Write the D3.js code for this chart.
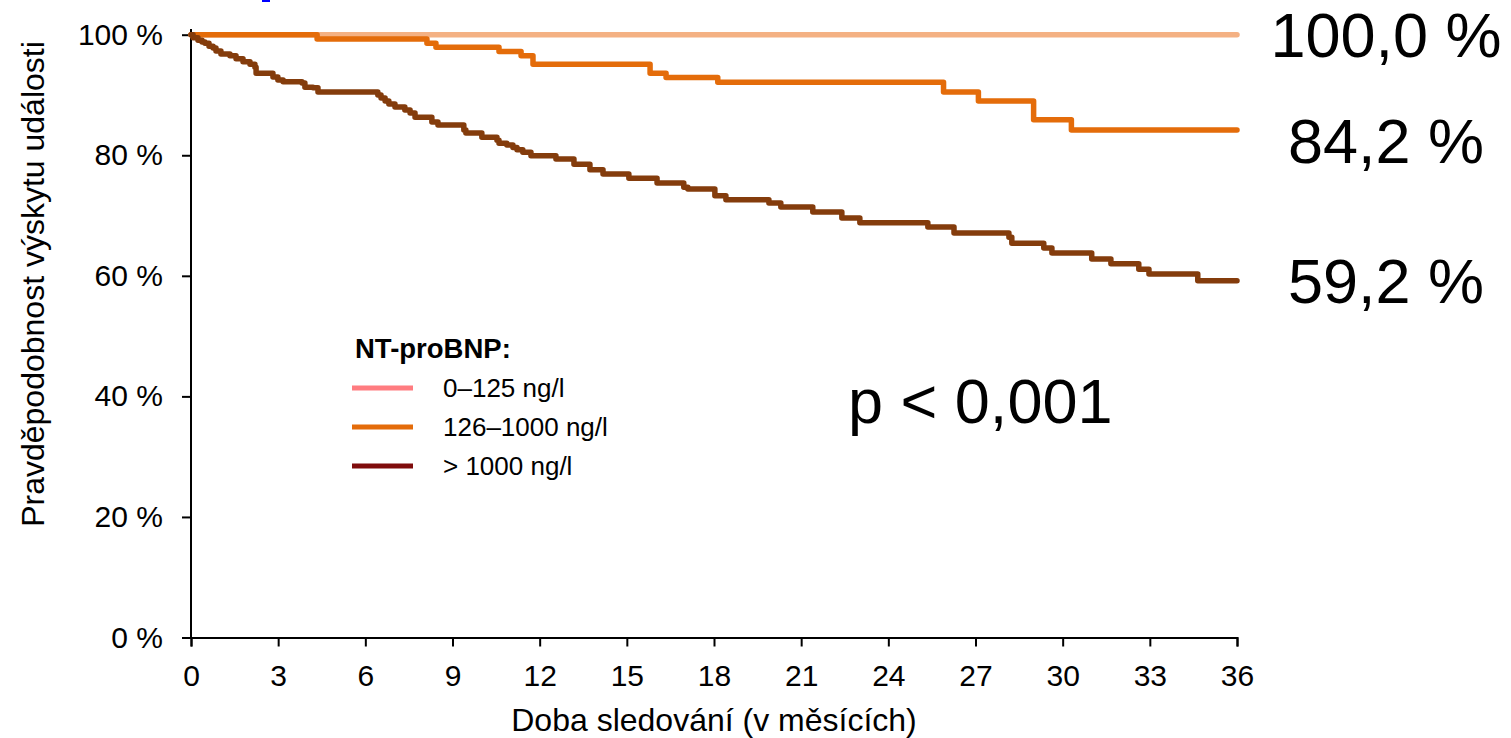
<!DOCTYPE html>
<html>
<head>
<meta charset="utf-8">
<script src="https://cdn.jsdelivr.net/npm/d3@7"></script>
<style>
  html, body { margin: 0; padding: 0; background: #fff; }
  svg { display: block; font-family: "Liberation Sans", Arial, sans-serif; }
</style>
</head>
<body>
<svg id="chart" width="1511" height="738"></svg>
<script>
// months of follow-up and event-free probability (%) after each step
const groups = ['0–125 ng/l', '126–1000 ng/l', '> 1000 ng/l']
const finalLabels = ['100,0 %', '84,2 %', '59,2 %']

const lowTimes = [0, 36]
const lowValues = [100, 100]

const midTimes = [0, 4.34, 8.12, 8.43, 10.6, 11.36, 11.77, 15.8, 16.35, 18.13,
  25.9, 27.1, 29.0, 30.3, 36]
const midValues = [100, 99.3, 98.6, 97.9, 97.2, 96.5, 95.1, 93.6, 92.9, 92.1,
  90.5, 89.0, 85.9, 84.2, 84.2]

const highTimes = [0, 0.07, 0.24, 0.38, 0.48, 0.62, 0.76, 0.86, 1.03, 1.34,
  1.55, 1.79, 2.03, 2.2, 2.24, 2.82, 2.99, 3.17, 3.82, 3.92, 4.2, 4.37, 6.43,
  6.54, 6.68, 6.81, 7.02, 7.36, 7.54, 7.71, 8.29, 8.5, 9.39, 9.46, 10.01, 10.53,
  10.6, 10.87, 11.08, 11.22, 11.42, 11.7, 12.56, 13.18, 13.73, 14.18, 15.07,
  16.04, 16.96, 17.1, 18.03, 18.41, 19.89, 20.3, 21.4, 22.4, 23.02, 25.36, 26.26,
  28.15, 28.25, 29.35, 29.63, 31.0, 31.66, 32.62, 32.97, 34.65, 36]
const highValues = [100, 99.5, 99.1, 98.8, 98.6, 98.1, 97.8, 97.3, 96.8, 96.5,
  96.0, 95.5, 95.1, 94.6, 93.6, 93.0, 92.5, 92.2, 92.0, 91.3, 91.2, 90.5, 90.0,
  89.5, 89.0, 88.5, 88.0, 87.5, 87.0, 86.3, 85.5, 85.0, 84.2, 83.7, 83.0, 82.5,
  82.0, 81.7, 81.3, 80.9, 80.5, 79.9, 79.4, 78.5, 77.6, 76.9, 76.2, 75.4, 74.7,
  74.4, 73.3, 72.6, 72.1, 71.4, 70.6, 69.6, 68.8, 68.1, 67.1, 66.4, 65.4, 64.6,
  63.8, 62.8, 62.0, 61.1, 60.3, 59.2, 59.2]

const xTicks = d3.range(0, 37, 3)
const yTicks = [0, 20, 40, 60, 80, 100]

const curveColors = ['#f4b183', '#e46c0a', '#843c0c']
const legendColors = ['#ff7c80', '#e46c0a', '#7f0c0c']

const svg = d3.select('#chart')

const x = d3.scaleLinear().domain([0, 36]).range([191, 1237])
const y = d3.scaleLinear().domain([0, 100]).range([637.5, 34.7])

// small blue fragment at the top edge
svg.append('rect')
  .attr('x', 262).attr('y', 0).attr('width', 8).attr('height', 2)
  .attr('fill', '#0000ff')

// axes
const yAxis = svg.append('g')
  .attr('transform', `translate(${x(0)},0)`)
  .call(d3.axisLeft(y).tickValues(yTicks).tickSize(9).tickPadding(19)
    .tickFormat((d) => d + ' %'))
yAxis.select('.domain').attr('d', `M0,${y(0)}V29`)

const xAxis = svg.append('g')
  .attr('transform', `translate(0,${y(0)})`)
  .call(d3.axisBottom(x).tickValues(xTicks).tickSize(9).tickPadding(18))

svg.selectAll('.domain, .tick line')
  .attr('stroke', '#000').attr('stroke-width', 2)
svg.selectAll('.tick text')
  .attr('font-family', '"Liberation Sans", Arial, sans-serif')
  .attr('font-size', 30).attr('fill', '#000')

// axis titles
svg.append('text')
  .attr('x', 714).attr('y', 731)
  .attr('text-anchor', 'middle').attr('font-size', 32)
  .text('Doba sledování (v měsících)')

svg.append('text')
  .attr('transform', 'translate(44,284) rotate(-90)')
  .attr('text-anchor', 'middle').attr('font-size', 32)
  .text('Pravděpodobnost výskytu události')

// survival curves
const series = [
  lowTimes.map((t, i) => [t, lowValues[i]]),
  midTimes.map((t, i) => [t, midValues[i]]),
  highTimes.map((t, i) => [t, highValues[i]]),
]

const line = d3.line()
  .x((d) => x(d[0]))
  .y((d) => y(d[1]))
  .curve(d3.curveStepAfter)

svg.append('g')
  .selectAll('path')
  .data(series)
  .join('path')
  .attr('d', line)
  .attr('fill', 'none')
  .attr('stroke', (d, i) => curveColors[i])
  .attr('stroke-width', 5.5)
  .attr('stroke-linejoin', 'round')
  .attr('stroke-linecap', 'round')

// final values on the right
const labelShift = [22, 33, 22]
svg.append('g')
  .selectAll('text')
  .data(series)
  .join('text')
  .attr('x', 1386)
  .attr('y', (d, i) => y(d[d.length - 1][1]) + labelShift[i])
  .attr('text-anchor', 'middle')
  .attr('font-size', 63)
  .text((d, i) => finalLabels[i])

svg.append('text')
  .attr('x', 848).attr('y', 423)
  .attr('font-size', 63)
  .text('p < 0,001')

// legend
const legend = svg.append('g').attr('transform', 'translate(352,358)')
legend.append('text')
  .attr('x', 3).attr('y', 0)
  .attr('font-size', 27.5).attr('font-weight', 'bold')
  .text('NT-proBNP:')

const items = legend.selectAll('g.item')
  .data(groups)
  .join('g')
  .attr('class', 'item')
  .attr('transform', (d, i) => `translate(0,${30 + i * 39})`)

items.append('line')
  .attr('x1', 0).attr('x2', 61)
  .attr('stroke', (d, i) => legendColors[i])
  .attr('stroke-width', 5)

items.append('text')
  .attr('x', 91).attr('y', 9)
  .attr('font-size', 26)
  .text((d) => d)
</script>
</body>
</html>
